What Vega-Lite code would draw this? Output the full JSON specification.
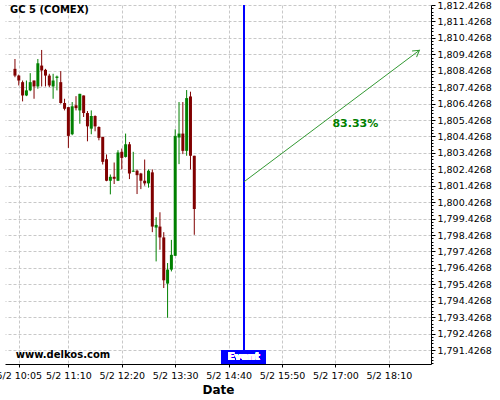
{
  "$schema": "https://vega.github.io/schema/vega-lite/v6.json",
  "width": 426,
  "height": 359,
  "autosize": {"type": "none"},
  "padding": {"left": 5, "top": 5, "right": 69, "bottom": 36},
  "background": "white",
  "title": {"text": "GC 5 (COMEX)", "anchor": "start", "frame": "group", "orient": "top", "offset": -15, "dx": 5, "font": "DejaVu Sans", "fontSize": 10, "fontWeight": "bold", "color": "#000000"},
  "config": {
    "view": {"stroke": null},
    "axis": {"labelFont": "DejaVu Sans", "titleFont": "DejaVu Sans", "labelColor": "#000000", "titleColor": "#000000", "domainColor": "#000000", "tickColor": "#000000", "gridColor": "#c8c8c8", "gridDash": [3, 2], "gridWidth": 1}
  },
  "resolve": {"axis": {"y": "independent"}},
  "data": {"values": [
    {"t": "2021-05-02T10:00:00Z", "open": 1808.54, "high": 1809.14, "low": 1808.03, "close": 1808.13},
    {"t": "2021-05-02T10:05:00Z", "open": 1808.13, "high": 1808.19, "low": 1807.53, "close": 1807.83},
    {"t": "2021-05-02T10:10:00Z", "open": 1807.73, "high": 1807.83, "low": 1806.56, "close": 1806.92},
    {"t": "2021-05-02T10:15:00Z", "open": 1806.92, "high": 1807.83, "low": 1806.88, "close": 1807.23},
    {"t": "2021-05-02T10:20:00Z", "open": 1807.23, "high": 1808.28, "low": 1807.18, "close": 1807.73},
    {"t": "2021-05-02T10:25:00Z", "open": 1807.83, "high": 1807.83, "low": 1806.72, "close": 1807.47},
    {"t": "2021-05-02T10:30:00Z", "open": 1807.47, "high": 1809.14, "low": 1807.33, "close": 1808.88},
    {"t": "2021-05-02T10:35:00Z", "open": 1808.74, "high": 1809.69, "low": 1807.47, "close": 1808.44},
    {"t": "2021-05-02T10:40:00Z", "open": 1808.48, "high": 1808.54, "low": 1807.47, "close": 1808.13},
    {"t": "2021-05-02T10:45:00Z", "open": 1808.13, "high": 1808.24, "low": 1807.43, "close": 1807.53},
    {"t": "2021-05-02T10:50:00Z", "open": 1807.47, "high": 1808.24, "low": 1806.72, "close": 1807.83},
    {"t": "2021-05-02T10:55:00Z", "open": 1807.99, "high": 1808.13, "low": 1807.23, "close": 1808.07},
    {"t": "2021-05-02T11:00:00Z", "open": 1807.73, "high": 1808.40, "low": 1806.42, "close": 1806.46},
    {"t": "2021-05-02T11:05:00Z", "open": 1806.46, "high": 1806.72, "low": 1806.01, "close": 1806.11},
    {"t": "2021-05-02T11:10:00Z", "open": 1806.21, "high": 1806.21, "low": 1803.73, "close": 1804.46},
    {"t": "2021-05-02T11:15:00Z", "open": 1804.56, "high": 1806.52, "low": 1804.50, "close": 1806.26},
    {"t": "2021-05-02T11:20:00Z", "open": 1806.32, "high": 1806.88, "low": 1806.01, "close": 1806.15},
    {"t": "2021-05-02T11:25:00Z", "open": 1806.01, "high": 1807.02, "low": 1805.20, "close": 1807.02},
    {"t": "2021-05-02T11:30:00Z", "open": 1806.92, "high": 1806.92, "low": 1805.61, "close": 1805.85},
    {"t": "2021-05-02T11:35:00Z", "open": 1805.85, "high": 1805.97, "low": 1804.13, "close": 1805.04},
    {"t": "2021-05-02T11:40:00Z", "open": 1804.90, "high": 1806.01, "low": 1804.56, "close": 1805.67},
    {"t": "2021-05-02T11:45:00Z", "open": 1805.67, "high": 1805.71, "low": 1804.74, "close": 1805.04},
    {"t": "2021-05-02T11:50:00Z", "open": 1805.00, "high": 1805.04, "low": 1804.19, "close": 1804.34},
    {"t": "2021-05-02T11:55:00Z", "open": 1804.40, "high": 1804.40, "low": 1802.72, "close": 1802.88},
    {"t": "2021-05-02T12:00:00Z", "open": 1803.04, "high": 1803.33, "low": 1801.70, "close": 1801.73},
    {"t": "2021-05-02T12:05:00Z", "open": 1801.73, "high": 1802.11, "low": 1800.90, "close": 1801.97},
    {"t": "2021-05-02T12:10:00Z", "open": 1801.97, "high": 1802.84, "low": 1801.53, "close": 1801.85},
    {"t": "2021-05-02T12:15:00Z", "open": 1801.73, "high": 1803.59, "low": 1801.71, "close": 1803.45},
    {"t": "2021-05-02T12:20:00Z", "open": 1803.49, "high": 1803.69, "low": 1802.42, "close": 1803.12},
    {"t": "2021-05-02T12:25:00Z", "open": 1803.18, "high": 1804.60, "low": 1803.14, "close": 1803.95},
    {"t": "2021-05-02T12:30:00Z", "open": 1803.95, "high": 1804.09, "low": 1801.83, "close": 1802.17},
    {"t": "2021-05-02T12:35:00Z", "open": 1802.28, "high": 1803.49, "low": 1802.28, "close": 1802.34},
    {"t": "2021-05-02T12:40:00Z", "open": 1802.34, "high": 1802.42, "low": 1800.92, "close": 1802.07},
    {"t": "2021-05-02T12:45:00Z", "open": 1802.17, "high": 1802.21, "low": 1801.22, "close": 1801.73},
    {"t": "2021-05-02T12:50:00Z", "open": 1801.73, "high": 1803.02, "low": 1801.43, "close": 1801.57},
    {"t": "2021-05-02T12:55:00Z", "open": 1801.57, "high": 1802.42, "low": 1801.31, "close": 1802.34},
    {"t": "2021-05-02T13:00:00Z", "open": 1802.24, "high": 1802.42, "low": 1798.60, "close": 1798.94},
    {"t": "2021-05-02T13:05:00Z", "open": 1798.88, "high": 1799.51, "low": 1796.82, "close": 1799.04},
    {"t": "2021-05-02T13:10:00Z", "open": 1798.94, "high": 1799.81, "low": 1797.53, "close": 1798.28},
    {"t": "2021-05-02T13:15:00Z", "open": 1798.28, "high": 1798.60, "low": 1795.20, "close": 1795.67},
    {"t": "2021-05-02T13:20:00Z", "open": 1795.47, "high": 1796.72, "low": 1793.39, "close": 1796.32},
    {"t": "2021-05-02T13:25:00Z", "open": 1796.32, "high": 1798.13, "low": 1796.21, "close": 1797.22},
    {"t": "2021-05-02T13:30:00Z", "open": 1797.16, "high": 1804.86, "low": 1797.16, "close": 1804.46},
    {"t": "2021-05-02T13:35:00Z", "open": 1804.36, "high": 1806.52, "low": 1802.74, "close": 1804.60},
    {"t": "2021-05-02T13:40:00Z", "open": 1804.60, "high": 1806.52, "low": 1803.35, "close": 1803.55},
    {"t": "2021-05-02T13:45:00Z", "open": 1803.55, "high": 1807.25, "low": 1803.25, "close": 1806.76},
    {"t": "2021-05-02T13:50:00Z", "open": 1806.86, "high": 1807.15, "low": 1802.42, "close": 1803.25},
    {"t": "2021-05-02T13:55:00Z", "open": 1803.25, "high": 1803.25, "low": 1798.44, "close": 1800.01}
  ]},
  "layer": [
    {
      "transform": [{"calculate": "datum.close >= datum.open ? 'up' : 'down'", "as": "dir"}],
      "mark": {"type": "rule", "strokeWidth": 1},
      "encoding": {
        "x": {"field": "t", "type": "temporal",
          "scale": {"type": "utc", "domain": [{"year": 2021, "month": 5, "date": 2, "hours": 9, "minutes": 53, "seconds": 30, "utc": true}, {"year": 2021, "month": 5, "date": 2, "hours": 18, "minutes": 58, "seconds": 39, "utc": true}]},
          "axis": {"title": "Date", "titleFontSize": 12, "titleFontWeight": "bold", "titlePadding": 5, "labelFontSize": 9.5, "format": "%-m/%-d %H:%M", "tickSize": 3, "labelPadding": 3, "labelOverlap": false, "labelFlush": false, "tickCount": 30,
            "values": [
              {"year": 2021, "month": 5, "date": 2, "hours": 10, "minutes": 5, "utc": true},
              {"year": 2021, "month": 5, "date": 2, "hours": 11, "minutes": 10, "utc": true},
              {"year": 2021, "month": 5, "date": 2, "hours": 12, "minutes": 20, "utc": true},
              {"year": 2021, "month": 5, "date": 2, "hours": 13, "minutes": 30, "utc": true},
              {"year": 2021, "month": 5, "date": 2, "hours": 14, "minutes": 40, "utc": true},
              {"year": 2021, "month": 5, "date": 2, "hours": 15, "minutes": 50, "utc": true},
              {"year": 2021, "month": 5, "date": 2, "hours": 17, "minutes": 0, "utc": true},
              {"year": 2021, "month": 5, "date": 2, "hours": 18, "minutes": 10, "utc": true}
            ]}},
        "y": {"field": "low", "type": "quantitative",
          "scale": {"domain": [1790.575, 1812.4268], "nice": false, "zero": false},
          "axis": {"orient": "right", "title": null, "format": ",.4f", "labelFontSize": 9.5, "tickSize": 4, "labelPadding": 2, "labelOverlap": false, "tickCount": 40,
            "values": [1791.4268, 1792.4268, 1793.4268, 1794.4268, 1795.4268, 1796.4268, 1797.4268, 1798.4268, 1799.4268, 1800.4268, 1801.4268, 1802.4268, 1803.4268, 1804.4268, 1805.4268, 1806.4268, 1807.4268, 1808.4268, 1809.4268, 1810.4268, 1811.4268, 1812.4268]}},
        "y2": {"field": "high"},
        "color": {"field": "dir", "type": "nominal", "scale": {"domain": ["up", "down"], "range": ["#008000", "#800000"]}, "legend": null}
      }
    },
    {
      "transform": [{"calculate": "datum.close >= datum.open ? 'up' : 'down'", "as": "dir"}],
      "mark": {"type": "bar", "size": 3},
      "encoding": {
        "x": {"field": "t", "type": "temporal"},
        "y": {"field": "open", "type": "quantitative",
          "axis": {"orient": "right", "title": null, "labels": false, "grid": false, "domain": false, "tickSize": 2, "tickCount": 200, "offset": 0,
            "values": [1790.6268, 1790.8268, 1791.0268, 1791.2268, 1791.6268, 1791.8268, 1792.0268, 1792.2268, 1792.6268, 1792.8268, 1793.0268, 1793.2268, 1793.6268, 1793.8268, 1794.0268, 1794.2268, 1794.6268, 1794.8268, 1795.0268, 1795.2268, 1795.6268, 1795.8268, 1796.0268, 1796.2268, 1796.6268, 1796.8268, 1797.0268, 1797.2268, 1797.6268, 1797.8268, 1798.0268, 1798.2268, 1798.6268, 1798.8268, 1799.0268, 1799.2268, 1799.6268, 1799.8268, 1800.0268, 1800.2268, 1800.6268, 1800.8268, 1801.0268, 1801.2268, 1801.6268, 1801.8268, 1802.0268, 1802.2268, 1802.6268, 1802.8268, 1803.0268, 1803.2268, 1803.6268, 1803.8268, 1804.0268, 1804.2268, 1804.6268, 1804.8268, 1805.0268, 1805.2268, 1805.6268, 1805.8268, 1806.0268, 1806.2268, 1806.6268, 1806.8268, 1807.0268, 1807.2268, 1807.6268, 1807.8268, 1808.0268, 1808.2268, 1808.6268, 1808.8268, 1809.0268, 1809.2268, 1809.6268, 1809.8268, 1810.0268, 1810.2268, 1810.6268, 1810.8268, 1811.0268, 1811.2268, 1811.6268, 1811.8268, 1812.0268, 1812.2268]}},
        "y2": {"field": "close"},
        "color": {"field": "dir", "type": "nominal", "legend": null}
      }
    },
    {
      "mark": {"type": "rule", "color": "#0000ff", "strokeWidth": 1},
      "encoding": {
        "x": {"datum": {"year": 2021, "month": 5, "date": 2, "hours": 15, "minutes": 0, "utc": true}, "type": "temporal"}
      }
    },
    {
      "mark": {"type": "bar", "size": 44, "color": "#0000ff"},
      "encoding": {
        "x": {"datum": {"year": 2021, "month": 5, "date": 2, "hours": 15, "minutes": 0, "utc": true}, "type": "temporal"},
        "y": {"datum": 1791.4268, "type": "quantitative", "axis": null},
        "y2": {"datum": 1790.575}
      }
    },
    {
      "mark": {"type": "text", "text": "Event", "color": "#ffffff", "font": "DejaVu Sans", "fontSize": 10, "fontWeight": "bold", "align": "center", "baseline": "middle"},
      "encoding": {
        "x": {"datum": {"year": 2021, "month": 5, "date": 2, "hours": 15, "minutes": 0, "utc": true}, "type": "temporal"},
        "y": {"datum": 1790.99, "type": "quantitative", "axis": null}
      }
    },
    {
      "data": {"values": [
        {"t": "2021-05-02T15:00:00Z", "price": 1801.66},
        {"t": "2021-05-02T18:50:00Z", "price": 1809.67}
      ]},
      "mark": {"type": "line", "color": "#339933", "strokeWidth": 1},
      "encoding": {
        "x": {"field": "t", "type": "temporal"},
        "y": {"field": "price", "type": "quantitative", "axis": null}
      }
    },
    {
      "data": {"values": [{"t": "2021-05-02T18:50:00Z", "price": 1809.67}]},
      "mark": {"type": "point", "shape": "M -1 -0.6 L 0 0 L -1 0.6", "filled": false, "color": "#339933", "strokeWidth": 1, "size": 160, "angle": 323.7, "opacity": 1},
      "encoding": {
        "x": {"field": "t", "type": "temporal"},
        "y": {"field": "price", "type": "quantitative", "axis": null}
      }
    },
    {
      "data": {"values": [{"t": "2021-05-02T17:26:00Z", "price": 1805.21, "label": "83.33%"}]},
      "mark": {"type": "text", "color": "#008000", "font": "DejaVu Sans", "fontSize": 11, "fontWeight": "bold", "align": "center", "baseline": "middle"},
      "encoding": {
        "x": {"field": "t", "type": "temporal"},
        "y": {"field": "price", "type": "quantitative", "axis": null},
        "text": {"field": "label"}
      }
    },
    {
      "data": {"values": [{"t": "2021-05-02T10:01:00Z", "price": 1791.1, "label": "www.delkos.com"}]},
      "mark": {"type": "text", "color": "#000000", "font": "DejaVu Sans", "fontSize": 10, "fontWeight": "bold", "align": "left", "baseline": "middle"},
      "encoding": {
        "x": {"field": "t", "type": "temporal"},
        "y": {"field": "price", "type": "quantitative", "axis": null},
        "text": {"field": "label"}
      }
    }
  ]
}
